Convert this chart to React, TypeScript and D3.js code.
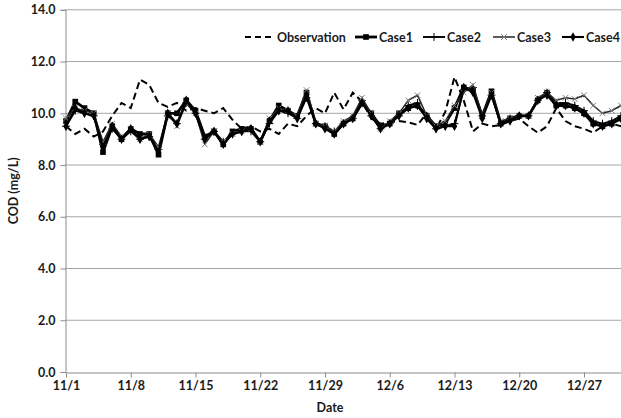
import React, { useEffect, useRef } from "react";
import * as d3 from "d3";

const width = 621;
const height = 418;

// x categories: one reading per day, 11/1 .. 12/31
const startDay = new Date(2012, 10, 1);
const endDay = new Date(2012, 11, 31);
const tickLabels = ["11/1", "11/8", "11/15", "11/22", "11/29", "12/6", "12/13", "12/20", "12/27"];
const yTicks = [0, 2, 4, 6, 8, 10, 12, 14];

const observation = [9.5, 9.2, 9.4, 9.1, 9.3, 9.9, 10.4, 10.2, 11.3, 11.1,
  10.4, 10.25, 10.4, 10.1, 10.2, 10.1, 10.0, 10.2, 9.75, 9.4,
  9.5, 9.3, 9.4, 9.2, 9.6, 9.5, 9.9, 10.2, 10.0, 10.8,
  10.15, 10.8, 10.45, 9.8, 9.6, 9.65, 9.7, 9.65, 9.55, 10.0,
  9.4, 10.05, 11.4, 10.5, 9.3, 9.6, 9.5, 9.55, 9.7, 9.8,
  9.5, 9.25, 9.5, 10.2, 9.7, 9.5, 9.4, 9.25, 9.5, 9.6, 9.5];

const case1 = [9.7, 10.45, 10.2, 10.0, 8.5, 9.5, 9.0, 9.4, 9.2, 9.2,
  8.4, 10.0, 10.0, 10.5, 10.1, 9.1, 9.3, 8.8, 9.3, 9.4,
  9.4, 8.9, 9.7, 10.3, 10.1, 9.9, 10.8, 9.6, 9.5, 9.2,
  9.6, 9.8, 10.4, 10.0, 9.5, 9.6, 10.0, 10.2, 10.3, 9.9,
  9.5, 9.6, 10.2, 11.0, 10.9, 9.9, 10.85, 9.6, 9.8, 9.9,
  9.9, 10.5, 10.8, 10.3, 10.3, 10.2, 10.0, 9.6, 9.5, 9.6, 9.8];

const case2 = [9.5, 10.1, 10.0, 9.9, 8.8, 9.4, 9.0, 9.3, 9.0, 9.1,
  8.6, 9.9, 9.6, 10.4, 10.0, 9.0, 9.3, 8.9, 9.2, 9.3,
  9.3, 8.9, 9.6, 10.1, 10.0, 9.8, 10.6, 9.6, 9.5, 9.3,
  9.6, 9.8, 10.5, 9.9, 9.4, 9.6, 9.9, 10.3, 10.4, 9.8,
  9.4, 9.5, 9.6, 10.9, 11.0, 9.9, 10.7, 9.6, 9.8, 9.9,
  9.9, 10.5, 10.8, 10.4, 10.4, 10.3, 10.1, 9.7, 9.6, 9.7, 9.9];

const case3 = [9.8, 10.2, 10.1, 10.0, 8.9, 9.6, 9.1, 9.4, 9.0, 9.2,
  8.7, 10.0, 9.5, 10.4, 10.0, 8.8, 9.3, 8.9, 9.2, 9.3,
  9.4, 8.9, 9.8, 10.2, 10.1, 9.9, 10.9, 9.6, 9.5, 9.3,
  9.7, 9.9, 10.6, 10.0, 9.4, 9.7, 10.0, 10.5, 10.7, 9.9,
  9.5, 9.7, 10.3, 10.8, 11.1, 9.9, 10.8, 9.7, 9.8, 9.9,
  9.9, 10.6, 10.8, 10.5, 10.6, 10.55, 10.7, 10.3, 10.0, 10.1, 10.3];

const case4 = [9.5, 10.2, 10.0, 9.9, 8.7, 9.5, 9.0, 9.4, 9.0, 9.1,
  8.5, 10.0, 9.6, 10.5, 10.0, 9.0, 9.3, 8.8, 9.2, 9.3,
  9.4, 8.9, 9.7, 10.1, 10.1, 9.8, 10.7, 9.6, 9.4, 9.2,
  9.6, 9.8, 10.4, 9.9, 9.4, 9.6, 9.9, 10.2, 10.3, 9.8,
  9.4, 9.5, 9.5, 11.0, 10.8, 9.8, 10.7, 9.6, 9.7, 9.9,
  9.9, 10.5, 10.7, 10.3, 10.3, 10.2, 10.0, 9.6, 9.5, 9.6, 9.8];

const seriesNames = ["Case1", "Case2", "Case3", "Case4"];

const font = "Lato, 'Liberation Sans', sans-serif";

const App = () => {
  const ref = useRef(null);

  useEffect(() => {
    const days = d3.timeDay.range(startDay, d3.timeDay.offset(endDay, 1));
    const parseTick = d3.timeParse("%m/%d/%Y");

    const x = d3.scaleTime().domain([startDay, endDay]).range([66, 621]);
    const y = d3.scaleLinear().domain([0, 14]).range([372, 9.8]);

    const svg = d3.select(ref.current);
    svg.selectAll("*").remove();

    // gridlines
    svg.append("g")
      .selectAll("line")
      .data(yTicks.filter(d => d > 0))
      .join("line")
      .attr("x1", 65).attr("x2", width)
      .attr("y1", d => y(d)).attr("y2", d => y(d))
      .attr("stroke", "#a6a6a6").attr("stroke-width", 1);

    // y axis
    const yAxis = svg.append("g")
      .attr("transform", "translate(65.5,0)")
      .call(d3.axisLeft(y).tickValues(yTicks).tickSize(5).tickFormat(d3.format(".1f")));
    yAxis.select(".domain").attr("stroke", "#8c8c8c");
    yAxis.selectAll(".tick line").attr("stroke", "#8c8c8c");
    yAxis.selectAll("text")
      .attr("x", -10)
      .style("font-family", font).style("font-weight", "bold").style("font-size", "12.5px")
      .attr("fill", "#1a1a1a");

    // x axis
    const tickDates = tickLabels.map(t => parseTick(t + "/2012"));
    const xAxis = svg.append("g")
      .attr("transform", "translate(0,372.5)")
      .call(d3.axisBottom(x).tickValues(tickDates).tickSize(5).tickSizeOuter(0)
        .tickFormat((d, i) => tickLabels[i]));
    xAxis.select(".domain").attr("stroke", "#8c8c8c");
    xAxis.selectAll(".tick line").attr("stroke", "#8c8c8c");
    xAxis.selectAll("text")
      .attr("y", 9)
      .style("font-family", font).style("font-weight", "bold").style("font-size", "12.5px")
      .attr("fill", "#1a1a1a");

    svg.append("text")
      .attr("x", 330).attr("y", 412)
      .attr("text-anchor", "middle")
      .style("font-family", font).style("font-weight", "bold").style("font-size", "12.5px")
      .attr("fill", "#1a1a1a")
      .text("Date");

    svg.append("text")
      .attr("transform", `translate(18,${y(7)}) rotate(-90)`)
      .attr("text-anchor", "middle")
      .style("font-family", font).style("font-weight", "bold").style("font-size", "12.5px")
      .attr("fill", "#1a1a1a")
      .text("COD (mg/L)");

    const line = d3.line()
      .x((d, i) => x(days[i]))
      .y(d => y(d));

    // series styles
    const styles = [
      { data: case1, sw: 2.8, stroke: "#000", symbol: d3.symbolSquare, size: 32, fill: "#000", mstroke: "none" },
      { data: case2, sw: 1.9, stroke: "#000", symbol: d3.symbolPlus, size: 22, fill: "none", mstroke: "#000" },
      { data: case3, sw: 1.5, stroke: "#262626", symbol: d3.symbolTimes, size: 22, fill: "none", mstroke: "#7f7f7f" },
      { data: case4, sw: 2.1, stroke: "#000", symbol: d3.symbolDiamond, size: 26, fill: "#000", mstroke: "none" },
    ];

    const plot = svg.append("g");

    plot.append("path")
      .datum(observation)
      .attr("d", line)
      .attr("fill", "none")
      .attr("stroke", "#000")
      .attr("stroke-width", 2)
      .attr("stroke-dasharray", "7,4");

    styles.forEach(s => {
      plot.append("path")
        .datum(s.data)
        .attr("d", line)
        .attr("fill", "none")
        .attr("stroke", s.stroke)
        .attr("stroke-width", s.sw)
        .attr("stroke-linejoin", "round");
      plot.append("g")
        .selectAll("path")
        .data(s.data)
        .join("path")
        .attr("transform", (d, i) => `translate(${x(days[i])},${y(d)})`)
        .attr("d", d3.symbol(s.symbol, s.size))
        .attr("fill", s.fill)
        .attr("stroke", s.mstroke)
        .attr("stroke-width", 1);
    });

    // legend
    const lg = svg.append("g").attr("transform", "translate(0,37)");
    lg.append("line")
      .attr("x1", 245).attr("x2", 273).attr("y1", 0).attr("y2", 0)
      .attr("stroke", "#000").attr("stroke-width", 2).attr("stroke-dasharray", "6,4");
    lg.append("text")
      .attr("x", 277).attr("y", 4.5)
      .style("font-family", font).style("font-weight", "bold").style("font-size", "12.5px")
      .attr("fill", "#1a1a1a")
      .text("Observation");

    const legendX = [355, 423, 493, 562];
    styles.forEach((s, i) => {
      const g = lg.append("g").attr("transform", `translate(${legendX[i]},0)`);
      g.append("line")
        .attr("x1", 0).attr("x2", 22).attr("y1", 0).attr("y2", 0)
        .attr("stroke", s.stroke).attr("stroke-width", s.sw);
      g.append("path")
        .attr("transform", "translate(11,0)")
        .attr("d", d3.symbol(s.symbol, s.size))
        .attr("fill", s.fill)
        .attr("stroke", s.mstroke)
        .attr("stroke-width", 1);
      g.append("text")
        .attr("x", 24).attr("y", 4.5)
        .style("font-family", font).style("font-weight", "bold").style("font-size", "12.5px")
        .attr("fill", "#1a1a1a")
        .text(seriesNames[i]);
    });
  }, []);

  return (
    <svg
      ref={ref}
      width={width}
      height={height}
      style={{ position: "absolute", left: 0, top: 0, background: "#fff" }}
    />
  );
};

export default App;
